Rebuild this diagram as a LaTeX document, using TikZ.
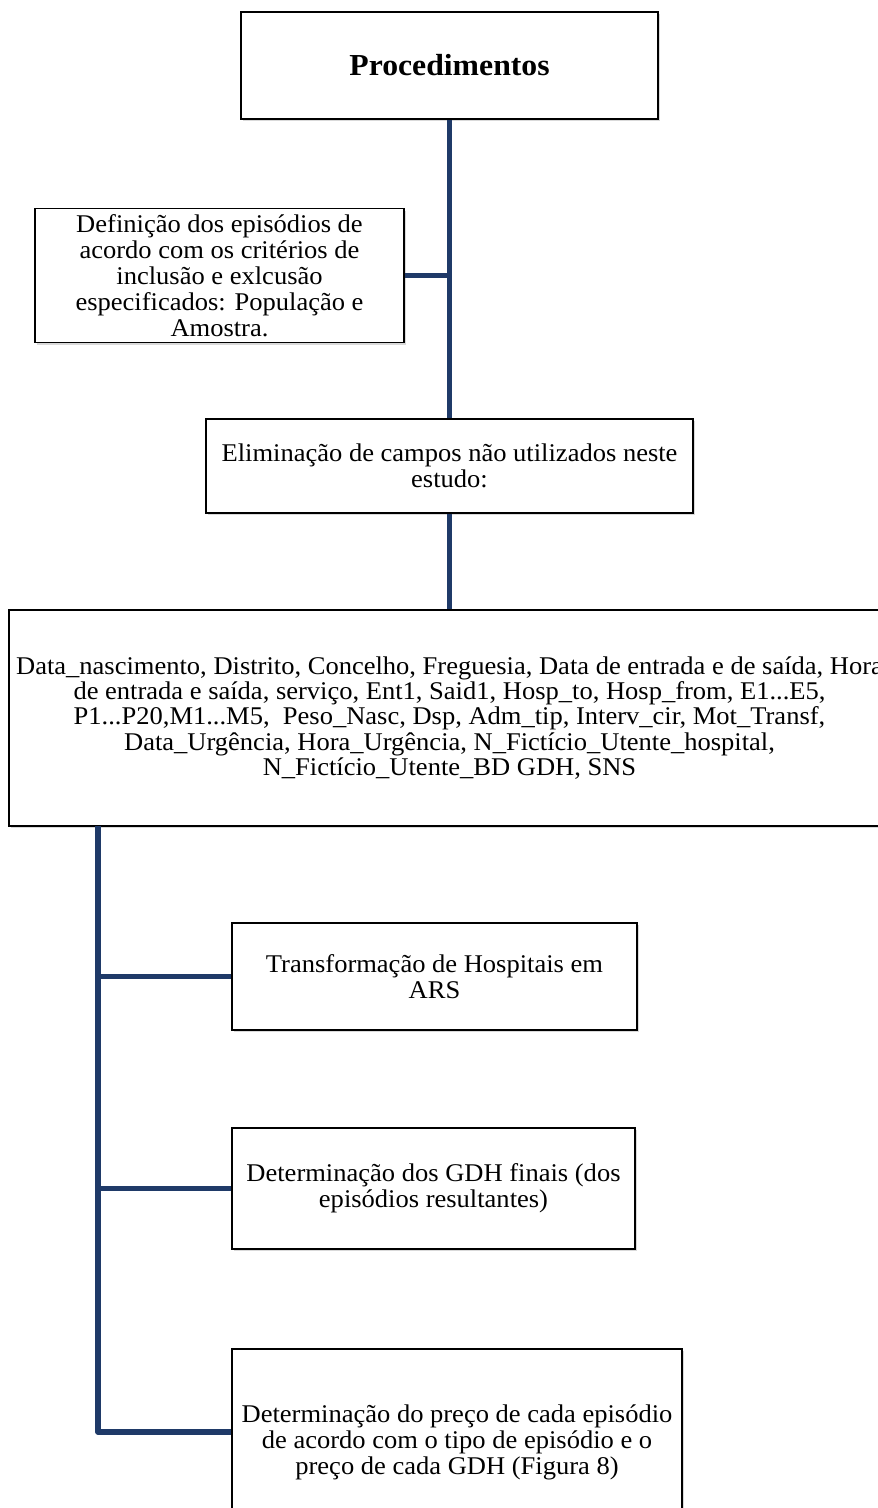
\documentclass[tikz,border=0pt]{standalone}
\usepackage{fontspec}
\setmainfont{Liberation Serif}[FakeStretch=1.04]
\usetikzlibrary{shadows}
\definecolor{navy}{RGB}{31,58,104}
\begin{document}
\begin{tikzpicture}[x=1pt,y=-1pt,
  box/.style={draw=black, line width=1.4pt, fill=white, align=center, inner sep=0pt,
    font=\fontsize{25.5}{26}\selectfont,
    drop shadow={shadow xshift=1.5pt, shadow yshift=-2pt, opacity=0.3}},
  link/.style={draw=navy, line width=5.5pt, line join=round}]
\useasboundingbox (0,0) rectangle (878,1508);
\clip (0,0) rectangle (878,1508);
\node[box, line width=2pt, minimum width=417pt, minimum height=107pt,
  font=\fontsize{30.5}{32}\selectfont\bfseries] (proc) at (449.5,65.5) {Procedimentos};
\node[box, minimum width=369pt, minimum height=134pt] (def) at (219.5,275.5)
  {Definição dos episódios de\\acordo com os critérios de\\inclusão e exlcusão\\especificados: População e\\Amostra.};
\node[box, minimum width=487pt, minimum height=94pt] (elim) at (449.5,466)
  {Eliminação de campos não utilizados neste\\estudo:};
\node[box, minimum width=881pt, minimum height=216pt, font=\fontsize{25.5}{25.3}\selectfont] (data) at (449.5,718)
  {Data\_nascimento, Distrito, Concelho, Freguesia, Data de entrada e de saída, Hora\\
   de entrada e saída, serviço, Ent1, Said1, Hosp\_to, Hosp\_from, E1...E5,\\
   P1...P20,M1...M5,\ \ Peso\_Nasc, Dsp, Adm\_tip, Interv\_cir, Mot\_Transf,\\
   Data\_Urgência, Hora\_Urgência, N\_Fictício\_Utente\_hospital,\\
   N\_Fictício\_Utente\_BD GDH, SNS};
\node[box, minimum width=405pt, minimum height=107pt] (transf) at (434.5,976.5)
  {Transformação de Hospitais em\\ARS};
\node[box, minimum width=403pt, minimum height=121pt] (det) at (433.5,1188.5)
  {Determinação dos GDH finais (dos\\episódios resultantes)};
\node[box, minimum width=450pt, minimum height=186pt] (last) at (457,1442)
  {Determinação do preço de cada episódio\\de acordo com o tipo de episódio e o\\preço de cada GDH (Figura 8)};
\coordinate (ltop) at (98,826);
\coordinate (lcorner) at (98,1432);
\draw[link] (proc.south) -- (elim.north);
\draw[link] (def.east) -- (def.east -| proc.south);
\draw[link] (elim.south) -- (data.north);
\draw[link] (ltop) -- (lcorner) -- (lcorner -| last.west);
\draw[link] (transf.west -| ltop) -- (transf.west);
\draw[link] (det.west -| ltop) -- (det.west);
\end{tikzpicture}
\end{document}
